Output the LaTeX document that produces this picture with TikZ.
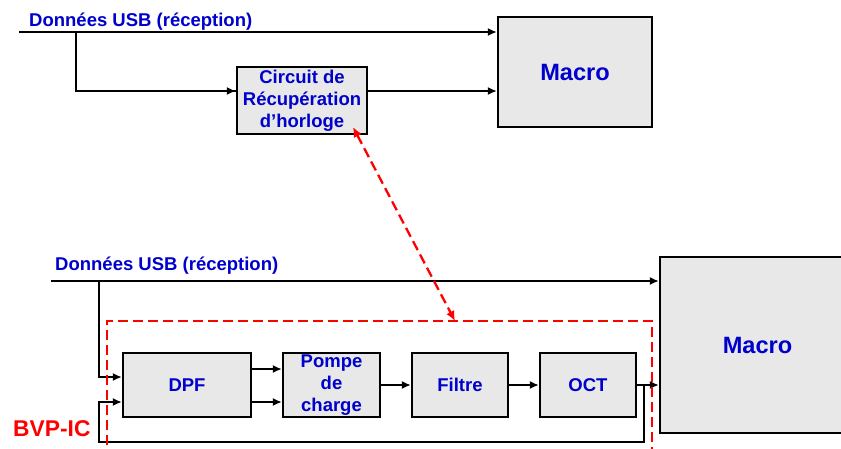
\documentclass[tikz,border=0pt]{standalone}
\usepackage{fontspec}
\setmainfont{Liberation Sans}
\usetikzlibrary{arrows.meta}
\definecolor{txtblue}{RGB}{0,0,204}
\definecolor{boxgray}{RGB}{232,232,232}
\begin{document}
\begin{tikzpicture}[x=1pt,y=-1pt,
  blk/.style={draw=black, line width=2.2pt, fill=boxgray, inner sep=0pt, align=center,
    font=\fontsize{18.5}{22}\selectfont\bfseries, text=txtblue},
  bigblk/.style={blk, font=\fontsize{23.6}{28}\selectfont\bfseries},
  lbl/.style={anchor=base west, inner sep=0pt, text=txtblue, font=\fontsize{18.5}{22}\selectfont\bfseries},
  wire/.style={line width=2pt, black},
  arr/.style={wire, -{Latex[length=9pt,width=8pt]}},
  reddash/.style={red, line width=2.3pt, dash pattern=on 10pt off 5pt},
  redarr/.style={reddash, {Latex[length=10pt,width=9pt]}-{Latex[length=10pt,width=9pt]}}]
\clip (0,0) rectangle (841,448);
\fill[white] (0,0) rectangle (841,448);
% ---------- top ----------
\node[lbl] (lbltop) at (29,26.5) {Données USB (réception)};
\node[blk, minimum width=130, minimum height=67] (crh) at (302,100.5) {Circuit de\\Récupération\\d’horloge};
\node[bigblk, minimum width=154, minimum height=110] (mtop) at (575,72) {Macro};
\coordinate (t0) at (19,32);
\coordinate (tb) at (76,32);
\draw[arr] (t0) -- (t0 -| mtop.west);
\draw[wire] (tb) |- (crh.west |- 0,91);
\draw[arr] (tb |- 0,91) -- (crh.west |- 0,91);
\draw[arr] (crh.east |- 0,91) -- (mtop.west |- 0,91);
% ---------- bottom ----------
\node[lbl] (lblbot) at (55,270.5) {Données USB (réception)};
\node[bigblk, minimum width=195, minimum height=176] (mbot) at (757.5,345) {Macro};
\node[blk, minimum width=128, minimum height=64] (dpf) at (187,385) {DPF};
\node[blk, minimum width=97, minimum height=64] (pompe) at (331.5,385) {Pompe\\de\\charge};
\node[blk, minimum width=96, minimum height=64] (filtre) at (460,385) {Filtre};
\node[blk, minimum width=96, minimum height=64] (oct) at (588,385) {OCT};
\node[anchor=base west, inner sep=0pt, text=red, font=\fontsize{22.8}{27}\selectfont\bfseries] (bvp) at (13,436.7) {BVP-IC};
\coordinate (b0) at (51,281);
\coordinate (bb) at (99,281);
\coordinate (fb) at (644,385);
\coordinate (fbl) at (99,442);
\draw[arr] (b0) -- (b0 -| mbot.west);
\draw[arr] (bb) |- (dpf.west |- 0,377);
\draw[arr] (dpf.east |- 0,369) -- (pompe.west |- 0,369);
\draw[arr] (dpf.east |- 0,402) -- (pompe.west |- 0,402);
\draw[arr] (pompe.east) -- (filtre.west);
\draw[arr] (filtre.east) -- (oct.west);
\draw[arr] (oct.east) -- (oct.east -| mbot.west);
\draw[arr] (fb) |- (fbl) |- (dpf.west |- 0,402);
% ---------- red ----------
\coordinate (bvptop) at (455,321);
\coordinate (ctip) at (353,127);
\draw[reddash] (107,460) |- (652,321) -- (652,460);
\draw[redarr] (ctip) -- (bvptop);
\end{tikzpicture}
\end{document}
